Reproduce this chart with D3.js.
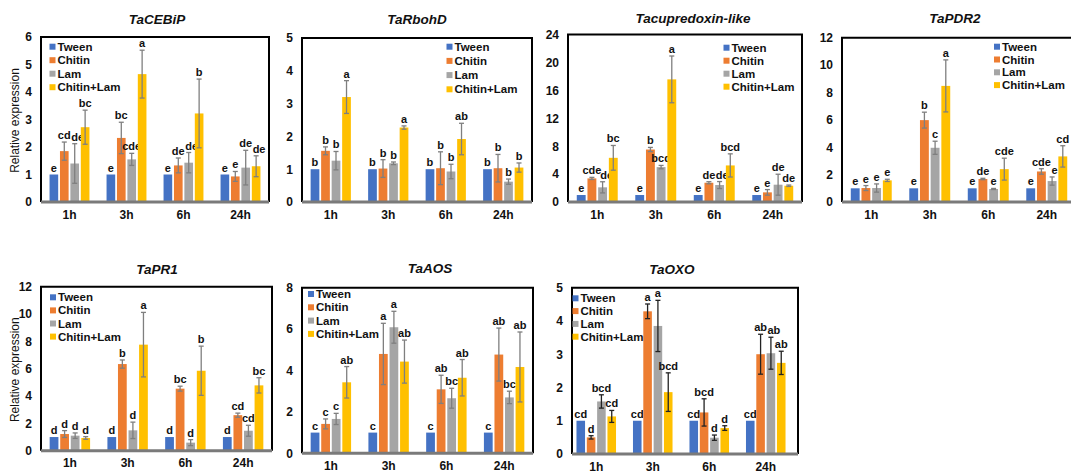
<!DOCTYPE html>
<html><head><meta charset="utf-8">
<script src="https://cdn.jsdelivr.net/npm/d3@7"></script>
<style>
html,body{margin:0;padding:0;background:#fff;}
svg{display:block;font-family:"Liberation Sans",Arial,sans-serif;}
</style></head>
<body><svg id="chart" width="1071" height="473"></svg>
<script>
// ---------- data ----------
const timepoints = ["1h", "3h", "6h", "24h"];
const treatments = ["Tween", "Chitin", "Lam", "Chitin+Lam"];
const genes = ["TaCEBiP", "TaRbohD", "Tacupredoxin-like", "TaPDR2", "TaPR1", "TaAOS", "TaOXO"];
const yMax = [6, 5, 24, 12, 12, 8, 5];
const yStep = [1, 1, 4, 2, 2, 2, 1];

// rows = treatments (Tween, Chitin, Lam, Chitin+Lam), columns = timepoints
const cebipMean = [[1, 1, 1, 1], [1.85, 2.33, 1.33, 0.93], [1.4, 1.55, 1.43, 1.25], [2.72, 4.65, 3.22, 1.3]];
const cebipErr = [[0, 0, 0, 0], [0.33, 0.57, 0.27, 0.18], [0.72, 0.22, 0.37, 0.63], [0.62, 0.87, 1.25, 0.38]];
const cebipLetters = [["e", "e", "e", "e"], ["cd", "bc", "de", "e"], ["de", "cde", "de", "de"], ["bc", "a", "b", "de"]];

const rbohdMean = [[1, 1, 1, 1], [1.56, 1.02, 1.03, 1.03], [1.26, 1.18, 0.93, 0.62], [3.2, 2.27, 1.92, 1.05]];
const rbohdErr = [[0, 0, 0, 0], [0.12, 0.27, 0.5, 0.42], [0.28, 0.04, 0.22, 0.08], [0.5, 0.05, 0.48, 0.14]];
const rbohdLetters = [["b", "b", "b", "b"], ["b", "b", "b", "b"], ["b", "b", "b", "b"], ["a", "a", "ab", "b"]];

const cupMean = [[1, 1, 1, 1], [3.38, 7.52, 2.76, 1.38], [2.1, 5.0, 2.43, 2.48], [6.33, 17.57, 5.24, 2.33]];
const cupErr = [[0, 0, 0, 0], [0.15, 0.3, 0.15, 0.4], [0.8, 0.24, 0.5, 1.5], [1.77, 3.35, 1.66, 0.1]];
const cupLetters = [["e", "e", "e", "e"], ["cde", "b", "de", "e"], ["de", "bcd", "de", "de"], ["bc", "a", "bcd", "de"]];

const pdr2Mean = [[1, 1, 1, 1], [1.02, 5.98, 1.68, 2.23], [1.02, 3.96, 0.95, 1.53], [1.58, 8.48, 2.4, 3.33]];
const pdr2Err = [[0, 0, 0, 0], [0.18, 0.58, 0.05, 0.2], [0.3, 0.48, 0.04, 0.3], [0.08, 1.9, 0.8, 0.78]];
const pdr2Letters = [["e", "e", "e", "e"], ["e", "b", "de", "cde"], ["e", "c", "e", "e"], ["e", "a", "cde", "cd"]];

const pr1Mean = [[1, 1, 1, 1], [1.22, 6.34, 4.54, 2.6], [1.1, 1.49, 0.59, 1.46], [0.93, 7.76, 5.85, 4.78]];
const pr1Err = [[0, 0, 0, 0], [0.25, 0.3, 0.18, 0.15], [0.2, 0.6, 0.22, 0.4], [0.1, 2.36, 1.8, 0.56]];
const pr1Letters = [["d", "d", "d", "d"], ["d", "b", "bc", "cd"], ["d", "d", "d", "cd"], ["d", "a", "b", "bc"]];

const aosMean = [[1, 1, 1, 1], [1.42, 4.8, 3.09, 4.77], [1.66, 6.09, 2.66, 2.7], [3.43, 4.43, 3.65, 4.17]];
const aosErr = [[0, 0, 0, 0], [0.24, 1.48, 0.68, 1.28], [0.27, 0.77, 0.48, 0.3], [0.76, 1.04, 0.88, 1.69]];
const aosLetters = [["c", "c", "c", "c"], ["c", "a", "ab", "ab"], ["c", "a", "bc", "bc"], ["ab", "ab", "ab", "ab"]];

const oxoMean = [[1, 1, 1, 1], [0.5, 4.29, 1.25, 3.0], [1.58, 3.85, 0.49, 3.03], [1.13, 1.86, 0.78, 2.74]];
const oxoErr = [[0, 0, 0, 0], [0.05, 0.22, 0.41, 0.6], [0.2, 0.77, 0.08, 0.48], [0.18, 0.58, 0.07, 0.35]];
const oxoLetters = [["cd", "cd", "cd", "cd"], ["d", "a", "bcd", "ab"], ["bcd", "a", "d", "ab"], ["cd", "bcd", "d", "ab"]];

// ---------- styles / layout ----------
const colors = ["#4472C4", "#ED7D31", "#A5A5A5", "#FFC000"];
const means = [cebipMean, rbohdMean, cupMean, pdr2Mean, pr1Mean, aosMean, oxoMean];
const errs = [cebipErr, rbohdErr, cupErr, pdr2Err, pr1Err, aosErr, oxoErr];
const letters = [cebipLetters, rbohdLetters, cupLetters, pdr2Letters, pr1Letters, aosLetters, oxoLetters];

const layout = [
  {x0: 41, x1: 269, top: 37, bottom: 202, shift: 0, tx: 157, ty: 24, lx: 49.5, ly: 46.7, ls: 13.5, ylab: true, ec: "#7f7f7f"},
  {x0: 302, x1: 532, top: 38, bottom: 202, shift: 0, tx: 417, ty: 23.5, lx: 446.5, ly: 46.7, ls: 14.2, ylab: false, ec: "#7f7f7f"},
  {x0: 568, x1: 802, top: 34.5, bottom: 202, shift: 0, tx: 693, ty: 23, lx: 723.5, ly: 47.7, ls: 13, ylab: false, ec: "#7f7f7f"},
  {x0: 842, x1: 1076, top: 37.7, bottom: 202, shift: 0, tx: 955, ty: 23, lx: 994, ly: 46.7, ls: 12.8, ylab: false, ec: "#7f7f7f"},
  {x0: 41, x1: 272, top: 286.7, bottom: 450.7, shift: 0, tx: 157, ty: 273.5, lx: 50, ly: 297.3, ls: 13.1, ylab: true, ec: "#7f7f7f"},
  {x0: 302, x1: 533, top: 287.7, bottom: 453.3, shift: 0, tx: 430, ty: 272.5, lx: 308, ly: 294, ls: 13.3, ylab: false, ec: "#7f7f7f"},
  {x0: 572, x1: 798, top: 287.7, bottom: 454, shift: -4, tx: 672, ty: 273.5, lx: 572.5, ly: 298.3, ls: 12.8, ylab: false, ec: "#222"}
];

const svg = d3.select("#chart");

genes.forEach((gene, gi) => {
  const L = layout[gi];
  const g = svg.append("g");
  const x = d3.scaleBand().domain(timepoints)
    .range([L.x0 + L.shift, L.x1 + L.shift])
    .paddingInner(0.3).paddingOuter(0.15);
  const xi = d3.scaleBand().domain(treatments).range([0, x.bandwidth()]).paddingInner(0.17).paddingOuter(0);
  const y = d3.scaleLinear().domain([0, yMax[gi]]).range([L.bottom, L.top]);

  const ticks = d3.range(0, yMax[gi] + 1e-9, yStep[gi]);
  const yAxis = d3.axisLeft(y).tickValues(ticks).tickSize(0).tickPadding(9).tickFormat(d3.format("d"));
  const ya = g.append("g").attr("transform", `translate(${L.x0},0)`).call(yAxis);
  ya.select(".domain").remove();
  ya.selectAll("text").attr("font-size", 12).attr("font-weight", "bold").attr("fill", "#111")
    .attr("font-family", "'Liberation Sans',Arial,sans-serif");

  const xAxis = d3.axisBottom(x).tickSize(0).tickPadding(8);
  const xa = g.append("g").attr("transform", `translate(0,${L.bottom})`).call(xAxis);
  xa.select(".domain").remove();
  xa.selectAll("text").attr("font-size", 12).attr("font-weight", "bold").attr("fill", "#111")
    .attr("font-family", "'Liberation Sans',Arial,sans-serif");

  timepoints.forEach((tp, pi) => {
    let prev = null;
    treatments.forEach((tr, ti) => {
      const v = means[gi][ti][pi];
      const e = errs[gi][ti][pi];
      const bx = x(tp) + xi(tr);
      const bw = xi.bandwidth();
      g.append("rect").attr("x", bx).attr("y", y(v)).attr("width", bw)
        .attr("height", y(0) - y(v)).attr("fill", colors[ti]);
      const cx = bx + bw / 2;
      if (e > 0) {
        g.append("line").attr("x1", cx).attr("x2", cx).attr("y1", y(v + e)).attr("y2", y(Math.max(0, v - e)))
          .attr("stroke", L.ec).attr("stroke-width", 1.3);
        [v + e, Math.max(0, v - e)].forEach(val => {
          g.append("line").attr("x1", cx - 2.5).attr("x2", cx + 2.5).attr("y1", y(val)).attr("y2", y(val))
            .attr("stroke", L.ec).attr("stroke-width", 1.3);
        });
      }
      const t = g.append("text").attr("y", y(v + e) - 3).attr("text-anchor", "middle")
        .attr("font-size", 11).attr("font-weight", "bold").attr("fill", "#111")
        .text(letters[gi][ti][pi]);
      t.attr("x", cx);
      // small nudge so adjacent letter groups sit side by side
      const w = t.node().getComputedTextLength();
      let lx = cx - w / 2;
      const ty = y(v + e) - 3;
      if (prev && Math.abs(prev.y - ty) < 10 && lx < prev.right + 0.5) {
        const d = Math.min(4, prev.right + 0.5 - lx);
        lx += d;
        t.attr("x", cx + d);
      }
      prev = {right: lx + w, y: ty};
    });
  });

  g.append("path")
    .attr("d", `M${L.x0},${L.bottom}V${L.top}H${L.x1}V${L.bottom}`)
    .attr("fill", "none").attr("stroke", "#000").attr("stroke-width", 2);
  g.append("line").attr("x1", L.x0).attr("x2", L.x1).attr("y1", L.bottom).attr("y2", L.bottom)
    .attr("stroke", "#7a7a7a").attr("stroke-width", 3);

  g.append("text").attr("x", L.tx).attr("y", L.ty).attr("text-anchor", "middle")
    .attr("font-size", 13.5).attr("font-weight", "bold").attr("font-style", "italic").attr("fill", "#111")
    .text(gene);

  treatments.forEach((tr, ti) => {
    const cy = L.ly + ti * L.ls;
    g.append("rect").attr("x", L.lx).attr("y", cy - 3).attr("width", 6).attr("height", 6).attr("fill", colors[ti]);
    g.append("text").attr("x", L.lx + 8).attr("y", cy + 4).attr("font-size", 11.5).attr("font-weight", "bold")
      .attr("fill", "#111").text(tr);
  });

  if (L.ylab) {
    g.append("text").attr("transform", `translate(19,${(L.top + L.bottom) / 2 + 1}) rotate(-90)`)
      .attr("text-anchor", "middle").attr("font-size", 12).attr("fill", "#111")
      .text("Relative expression");
  }
});
</script>
</body></html>
